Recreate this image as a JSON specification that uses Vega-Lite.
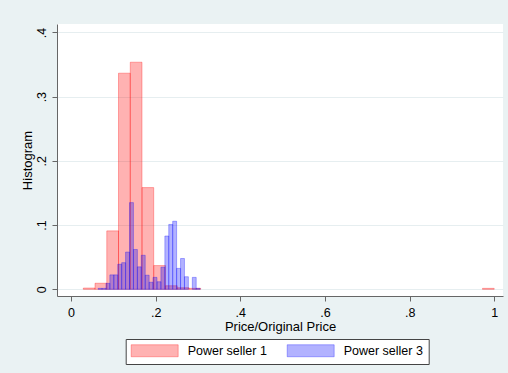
{
  "$schema": "https://vega.github.io/schema/vega-lite/v6.json",
  "width": 446,
  "height": 272,
  "autosize": "none",
  "padding": {"left": 57, "top": 24, "right": 5, "bottom": 77},
  "background": "#eaf2f3",
  "config": {
    "font": "Liberation Sans",
    "view": {"fill": "white", "stroke": null},
    "axis": {"labelColor": "#000", "titleColor": "#000", "titleFontWeight": "normal", "domainColor": "#666", "tickColor": "#666", "tickSize": 5, "labelFontSize": 12.5, "titleFontSize": 13}
  },
  "datasets": {
    "bins": [
      {"seller": "Power seller 1", "x0": 0.0290, "x1": 0.0567, "frac": 0.002},
      {"seller": "Power seller 1", "x0": 0.0567, "x1": 0.0845, "frac": 0.0095},
      {"seller": "Power seller 1", "x0": 0.0845, "x1": 0.1122, "frac": 0.091},
      {"seller": "Power seller 1", "x0": 0.1122, "x1": 0.1400, "frac": 0.3365},
      {"seller": "Power seller 1", "x0": 0.1400, "x1": 0.1677, "frac": 0.3536},
      {"seller": "Power seller 1", "x0": 0.1677, "x1": 0.1954, "frac": 0.1584},
      {"seller": "Power seller 1", "x0": 0.1954, "x1": 0.2232, "frac": 0.037},
      {"seller": "Power seller 1", "x0": 0.2232, "x1": 0.2509, "frac": 0.0056},
      {"seller": "Power seller 1", "x0": 0.2509, "x1": 0.2787, "frac": 0.0025},
      {"seller": "Power seller 1", "x0": 0.2787, "x1": 0.3064, "frac": 0.0015},
      {"seller": "Power seller 1", "x0": 0.9721, "x1": 0.9998, "frac": 0.0015},
      {"seller": "Power seller 3", "x0": 0.0640, "x1": 0.0733, "frac": 0.0015},
      {"seller": "Power seller 3", "x0": 0.0733, "x1": 0.0826, "frac": 0.0015},
      {"seller": "Power seller 3", "x0": 0.0826, "x1": 0.0918, "frac": 0.0093},
      {"seller": "Power seller 3", "x0": 0.0918, "x1": 0.1011, "frac": 0.0225},
      {"seller": "Power seller 3", "x0": 0.1011, "x1": 0.1104, "frac": 0.0225},
      {"seller": "Power seller 3", "x0": 0.1104, "x1": 0.1197, "frac": 0.039},
      {"seller": "Power seller 3", "x0": 0.1197, "x1": 0.1289, "frac": 0.0415},
      {"seller": "Power seller 3", "x0": 0.1289, "x1": 0.1382, "frac": 0.058},
      {"seller": "Power seller 3", "x0": 0.1382, "x1": 0.1475, "frac": 0.135},
      {"seller": "Power seller 3", "x0": 0.1475, "x1": 0.1568, "frac": 0.062},
      {"seller": "Power seller 3", "x0": 0.1568, "x1": 0.1660, "frac": 0.035},
      {"seller": "Power seller 3", "x0": 0.1660, "x1": 0.1753, "frac": 0.053},
      {"seller": "Power seller 3", "x0": 0.1753, "x1": 0.1846, "frac": 0.022},
      {"seller": "Power seller 3", "x0": 0.1846, "x1": 0.1938, "frac": 0.011},
      {"seller": "Power seller 3", "x0": 0.1938, "x1": 0.2031, "frac": 0.0186},
      {"seller": "Power seller 3", "x0": 0.2031, "x1": 0.2124, "frac": 0.0118},
      {"seller": "Power seller 3", "x0": 0.2124, "x1": 0.2217, "frac": 0.0345},
      {"seller": "Power seller 3", "x0": 0.2217, "x1": 0.2309, "frac": 0.083},
      {"seller": "Power seller 3", "x0": 0.2309, "x1": 0.2402, "frac": 0.101},
      {"seller": "Power seller 3", "x0": 0.2402, "x1": 0.2495, "frac": 0.106},
      {"seller": "Power seller 3", "x0": 0.2495, "x1": 0.2588, "frac": 0.0326},
      {"seller": "Power seller 3", "x0": 0.2588, "x1": 0.2680, "frac": 0.048},
      {"seller": "Power seller 3", "x0": 0.2680, "x1": 0.2773, "frac": 0.0196},
      {"seller": "Power seller 3", "x0": 0.2866, "x1": 0.2958, "frac": 0.0186},
      {"seller": "Power seller 3", "x0": 0.2958, "x1": 0.3051, "frac": 0.0015}
    ]
  },
  "data": {"name": "bins"},
  "mark": {"type": "rect", "fillOpacity": 0.3, "strokeOpacity": 0.3, "strokeWidth": 1},
  "encoding": {
    "x": {
      "field": "x0", "type": "quantitative",
      "scale": {"domain": [-0.0331, 1.0206], "nice": false, "zero": false},
      "axis": {
        "title": "Price/Original Price", "values": [0, 0.2, 0.4, 0.6, 0.8, 1],
        "labelExpr": "datum.value == 0 ? '0' : datum.value == 1 ? '1' : replace(format(datum.value, '.1f'), '0.', '.')",
        "grid": false, "labelPadding": 5, "titlePadding": 2, "labelFlush": false
      }
    },
    "x2": {"field": "x1"},
    "y": {
      "field": "frac", "type": "quantitative",
      "scale": {"domain": [-0.0104, 0.4131], "nice": false, "zero": false},
      "axis": {
        "title": "Histogram", "values": [0, 0.1, 0.2, 0.3, 0.4],
        "labelExpr": "datum.value == 0 ? '0' : replace(format(datum.value, '.1f'), '0.', '.')",
        "labelAngle": -90, "labelAlign": "center", "labelBaseline": "bottom",
        "labelPadding": 4, "titlePadding": 1, "labelFlush": false,
        "grid": true, "gridColor": "#e6eef0", "gridWidth": 1
      }
    },
    "y2": {"datum": 0},
    "fill": {
      "field": "seller", "type": "nominal",
      "scale": {"domain": ["Power seller 1", "Power seller 3"], "range": ["#ff0000", "#0000ff"]},
      "legend": {
        "title": null, "orient": "none", "legendX": 68.7, "legendY": 315,
        "direction": "horizontal", "columns": 2, "columnPadding": 17,
        "symbolType": "M-1,-1H6.83V1H-1Z", "symbolSize": 144,
        "labelOffset": 44, "labelFontSize": 12.5, "labelColor": "#000",
        "padding": 5, "fillColor": "white", "strokeColor": "#444",
        "encode": {"symbols": {"update": {
          "stroke": {"scale": "fill", "field": "value"},
          "fillOpacity": {"value": 0.3}, "strokeOpacity": {"value": 0.3}, "strokeWidth": {"value": 1}
        }}}
      }
    },
    "stroke": {
      "field": "seller", "type": "nominal",
      "scale": {"domain": ["Power seller 1", "Power seller 3"], "range": ["#ff0000", "#0000ff"]},
      "legend": null
    }
  }
}
